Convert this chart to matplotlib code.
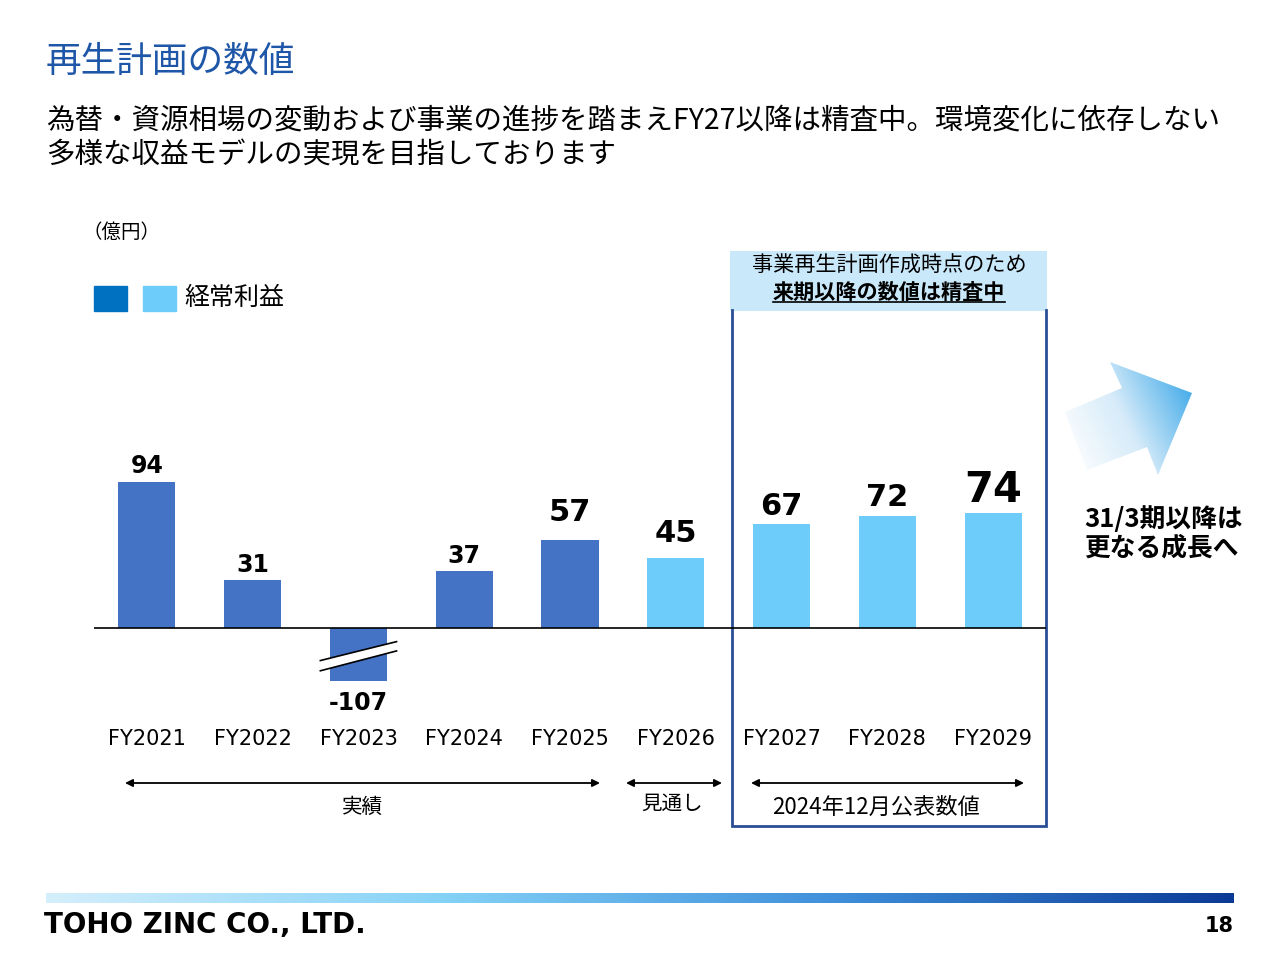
import numpy as np
import matplotlib
matplotlib.use('Agg')
import matplotlib.pyplot as plt
from matplotlib.patches import Rectangle, Polygon
from matplotlib.colors import LinearSegmentedColormap

plt.rcParams['font.family'] = ['Noto Sans CJK JP', 'DejaVu Sans']

# data (億円, 経常利益)
fiscal_years = ['FY2021', 'FY2022', 'FY2023', 'FY2024', 'FY2025',
                'FY2026', 'FY2027', 'FY2028', 'FY2029']
ordinary_profit = [94, 31, -107, 37, 57, 45, 67, 72, 74]
kind = ['actual'] * 5 + ['outlook'] + ['plan'] * 3
break_floor = -34          # the -107 bar is drawn broken at this depth

# styles
bar_colors = {'actual': '#4472C4', 'outlook': '#6DCCFA', 'plan': '#6DCCFA'}
label_sizes = [17, 17, 17, 17, 22, 22, 22, 22, 30]
label_gaps_px = [9, 8, 10, 8, 19, 16, 9, 10, 11]

fig = plt.figure(figsize=(12.8, 9.6), dpi=100)

# background layer in pixel coordinates
bg = fig.add_axes([0, 0, 1, 1], zorder=0)
bg.set_autoscale_on(False)
bg.set_xlim(0, 1280)
bg.set_ylim(960, 0)
bg.axis('off')

# title / subtitle
bg.text(46, 62, '再生計画の数値', fontsize=25.7, color='#1F57A8', va='center')
bg.text(46, 121, '為替・資源相場の変動および事業の進捗を踏まえFY27以降は精査中。環境変化に依存しない',
        fontsize=20.5, va='center')
bg.text(46, 155, '多様な収益モデルの実現を目指しております', fontsize=20.5, va='center')

# unit and legend
bg.text(82, 232, '（億円）', fontsize=14, va='center')
bg.add_patch(Rectangle((94, 286), 33, 25, color='#0070C0'))
bg.add_patch(Rectangle((143, 286), 33, 25, color='#6DCCFA'))
bg.text(184, 298, '経常利益', fontsize=18, va='center')

# plan box
bg.add_patch(Rectangle((730, 251), 317, 60, color='#C9E8FA', lw=0))
box_col = '#2A4E96'
bg.plot([732, 732, 1046, 1046], [310, 826, 826, 310], color=box_col, lw=2,
        solid_joinstyle='miter')
bg.text(889, 266, '事業再生計画作成時点のため', fontsize=15.2, ha='center', va='center')
t_bold = bg.text(889, 292, '来期以降の数値は精査中', fontsize=15.2, ha='center',
                 va='center', fontweight='bold')

# growth arrow with gradient
arrow_pts = [(1065, 412), (1122, 388), (1110, 362), (1192, 393),
             (1158, 475), (1147, 447), (1087, 470)]
arrow_poly = Polygon(arrow_pts, closed=True, facecolor='none', edgecolor='none')
bg.add_patch(arrow_poly)
gx, gy = np.meshgrid(np.linspace(0, 1, 200), np.linspace(0, 1, 200))
grad = np.clip(gx * 0.8 + gy * 0.35 - 0.05, 0, 1)
arrow_cmap = LinearSegmentedColormap.from_list('arr', ['#FFFFFF', '#D6EBF9', '#4AAEEA'])
im = bg.imshow(grad, extent=[1065, 1192, 475, 362], cmap=arrow_cmap,
               aspect='auto', zorder=1, origin='lower')
im.set_clip_path(arrow_poly)
bg.text(1084, 520, '31/3期以降は', fontsize=18.5, fontweight='bold', va='center')
bg.text(1084, 548, '更なる成長へ', fontsize=18.5, fontweight='bold', va='center')

# period arrows
periods = [('実績', 125, 600, 362, 807, 14.8), ('見通し', 626, 722, 672, 804, 14.8),
           ('2024年12月公表数値', 751, 1024, 876, 807, 16)]
for name, x0, x1, tx, ty, fs in periods:
    bg.annotate('', xy=(x1, 783), xytext=(x0, 783),
                arrowprops=dict(arrowstyle='<|-|>', color='black', lw=1.3,
                                mutation_scale=11, shrinkA=0, shrinkB=0))
    bg.text(tx, ty, name, fontsize=fs, ha='center', va='center')

# footer
foot_cmap = LinearSegmentedColormap.from_list(
    'foot', ['#D4EFFC', '#85D2F7', '#3F8FDB', '#0B3A96'])
bg.imshow(np.linspace(0, 1, 512).reshape(1, -1), extent=[46, 1234, 903, 893],
          cmap=foot_cmap, aspect='auto', zorder=1)
bg.text(44, 925, 'TOHO ZINC CO., LTD.', fontsize=20, fontweight='heavy',
        family='DejaVu Sans', va='center')
bg.text(1234, 926, '18', fontsize=15, fontweight='bold', family='DejaVu Sans',
        ha='right', va='center')

# chart
px_per_unit = 1.55
ax = fig.add_axes([94 / 1280, 260 / 960, 952 / 1280, 300 / 960], zorder=2)
ax.patch.set_alpha(0)
ax.set_xlim(-0.5, len(fiscal_years) - 0.5)
ax.set_ylim(-(700 - 628) / px_per_unit, (628 - 400) / px_per_unit)
for s in ax.spines.values():
    s.set_visible(False)
ax.set_yticks([])

x = np.arange(len(fiscal_years))
shown = [max(v, break_floor) for v in ordinary_profit]
ax.bar(x, shown, width=0.54, color=[bar_colors[k] for k in kind], zorder=2)
ax.axhline(0, color='black', lw=1.2, zorder=3)

for i, v in enumerate(ordinary_profit):
    if v >= 0:
        ax.annotate(str(v), (x[i], shown[i]), xytext=(0, label_gaps_px[i] * 0.72),
                    textcoords='offset points', ha='center', va='baseline',
                    fontsize=label_sizes[i], fontweight='bold', family='DejaVu Sans')
    else:
        ax.annotate(str(v), (x[i], shown[i]), xytext=(0, -label_gaps_px[i] * 0.72),
                    textcoords='offset points', ha='center', va='top',
                    fontsize=label_sizes[i], fontweight='bold', family='DejaVu Sans')

# break marks on the clipped bar
for i, v in enumerate(ordinary_profit):
    if v < break_floor:
        xl, xr = x[i] - 0.36, x[i] + 0.36
        up = (-21.0, -8.8)
        lo = (-27.6, -14.8)
        ax.add_patch(Polygon([(xl, up[0]), (xr, up[1]), (xr, lo[1]), (xl, lo[0])],
                             closed=True, facecolor='white', edgecolor='none', zorder=4))
        ax.plot([xl, xr], up, color='black', lw=1.2, zorder=5)
        ax.plot([xl, xr], lo, color='black', lw=1.2, zorder=5)

ax.set_xticks(x, labels=fiscal_years, fontsize=15, family='DejaVu Sans')
ax.tick_params(axis='x', length=0, pad=21)

# underline for the bold header line
fig.canvas.draw()
bb = t_bold.get_window_extent()
inv = bg.transData.inverted()
(ux0, uy0), (ux1, _) = inv.transform([(bb.x0, bb.y0), (bb.x1, bb.y1)])
bg.plot([ux0, ux1], [uy0 - 1, uy0 - 1], color='black', lw=1.2)

fig.savefig('out.png', dpi=100)
